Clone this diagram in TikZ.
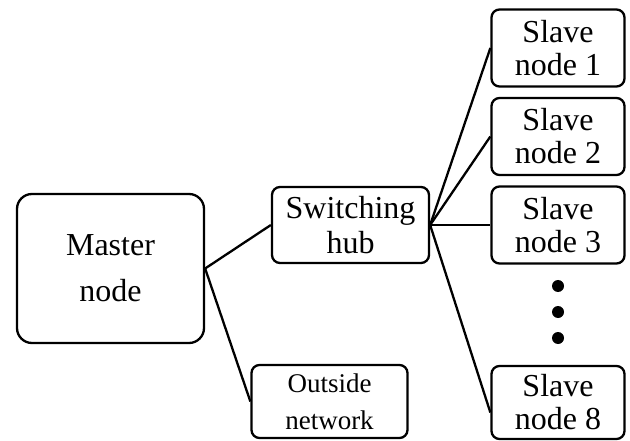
\documentclass[tikz,border=0pt]{standalone}
\usepackage{fontspec}
\setmainfont{Liberation Serif}
\begin{document}
\begin{tikzpicture}[x=1bp,y=-1bp,
  box/.style={draw=black, line width=2.3bp, rounded corners=8bp, inner sep=0pt, align=center},
  link/.style={draw=black, line width=2.3bp},
  dot/.style={circle, fill=black, inner sep=0pt, minimum size=12bp}]
\useasboundingbox (0,0) rectangle (630,441);
\node[box, rounded corners=15bp, minimum width=187bp, minimum height=149bp,
  font=\fontsize{32bp}{46bp}\selectfont] (master) at (110.5,268.5) {Master\\node};
\node[box, minimum width=157bp, minimum height=76bp,
  font=\fontsize{32bp}{35bp}\selectfont] (hub) at (350.5,225) {Switching\\hub};
\node[box, minimum width=156bp, minimum height=73bp,
  font=\fontsize{27bp}{37bp}\selectfont] (out) at (329.5,401.5) {Outside\\network};
\tikzset{slave/.style={box, minimum width=133bp, minimum height=77bp,
  font=\fontsize{32bp}{33bp}\selectfont}}
\node[slave] (s1) at (558,48) {Slave\\node 1};
\node[slave] (s2) at (558,136.5) {Slave\\node 2};
\node[slave] (s3) at (558,225) {Slave\\node 3};
\node[slave, minimum height=73bp] (s8) at (558,402.5) {Slave\\node 8};
\node[dot] (d1) at (558,286) {};
\node[dot] (d2) at (558,312) {};
\node[dot] (d3) at (558,338) {};
\draw[link] (master.east) -- (hub.west);
\draw[link] (master.east) -- (out.west);
\draw[link] (hub.east) -- (s1.west);
\draw[link] (hub.east) -- (s2.west);
\draw[link] (hub.east) -- (s3.west);
\draw[link] (hub.east) -- ([yshift=-10bp]s8.west);
\end{tikzpicture}
\end{document}
